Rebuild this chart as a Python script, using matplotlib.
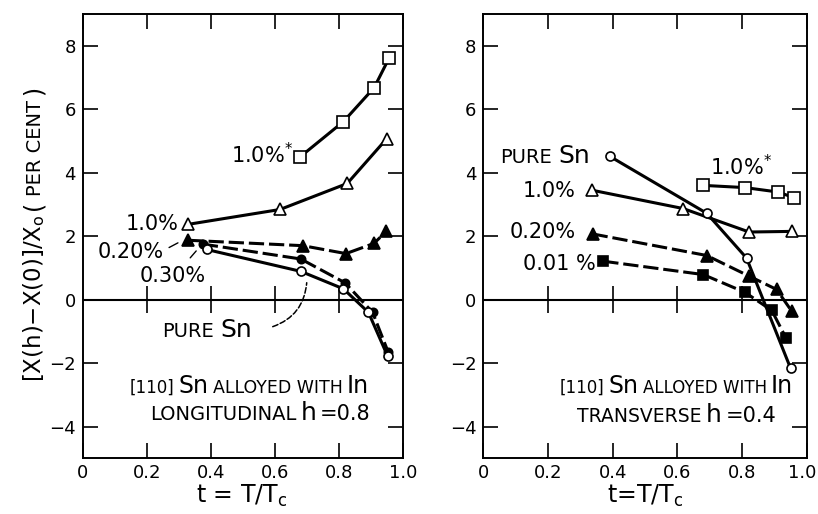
import numpy as np
import matplotlib
matplotlib.use("Agg")
import matplotlib.pyplot as plt
from matplotlib.transforms import ScaledTranslation

plt.rcParams['font.family'] = ['DejaVu Sans']
plt.rcParams['mathtext.fontset'] = 'dejavusans'

W, H = 818, 514

# ---- data: t = T/Tc, [X(h)-X(0)]/X0 in per cent ----
# left panel: longitudinal, h = 0.8
L_star_t = [0.679, 0.814, 0.910, 0.956]
L_star_v = [4.50, 5.61, 6.68, 7.60]
L_10_t = [0.328, 0.616, 0.826, 0.949]
L_10_v = [2.37, 2.84, 3.66, 5.07]
L_020_t = [0.330, 0.687, 0.822, 0.909, 0.948]
L_020_v = [1.87, 1.70, 1.45, 1.77, 2.15]
L_030_t = [0.375, 0.681, 0.819, 0.905, 0.954]
L_030_v = [1.75, 1.28, 0.53, -0.40, -1.66]
L_pure_t = [0.387, 0.681, 0.814, 0.892, 0.952]
L_pure_v = [1.58, 0.89, 0.34, -0.40, -1.78]

# right panel: transverse, h = 0.4
R_pure_t = [0.392, 0.691, 0.814, 0.950]
R_pure_v = [4.51, 2.72, 1.31, -2.16]
R_star_t = [0.680, 0.809, 0.912, 0.961]
R_star_v = [3.60, 3.53, 3.39, 3.21]
R_10_t = [0.335, 0.618, 0.822, 0.954]
R_10_v = [3.45, 2.87, 2.13, 2.15]
R_020_t = [0.338, 0.691, 0.822, 0.907, 0.954]
R_020_v = [2.07, 1.39, 0.74, 0.32, -0.37]
R_001_t = [0.371, 0.680, 0.809, 0.892, 0.936]
R_001_v = [1.21, 0.79, 0.23, -0.34, -1.21]

xticks = [0, 0.2, 0.4, 0.6, 0.8, 1.0]
xticklabels = ['0', '0.2', '0.4', '0.6', '0.8', '1.0']
yticks = [-4, -2, 0, 2, 4, 6, 8]
yticklabels = ['\u22124', '\u22122', '0', '2', '4', '6', '8']

fig = plt.figure(figsize=(W / 100, H / 100), dpi=100)
axL = fig.add_axes([82.7 / W, 1 - 458.3 / H, (403 - 82.7) / W, (458.3 - 14) / H])
axR = fig.add_axes([483.3 / W, 1 - 458.3 / H, (806.7 - 483.3) / W, (458.3 - 14) / H])


def style_axes(ax):
    ax.set_xlim(0, 1.0)
    ax.set_ylim(-5, 9)
    ax.set_xticks(xticks)
    ax.set_xticklabels(xticklabels)
    ax.set_yticks(yticks)
    ax.set_yticklabels(yticklabels)
    ax.tick_params(axis='both', direction='in', length=11, width=1.2,
                   top=True, right=True, labelsize=13, pad=5)
    ax.tick_params(axis='x', pad=4)
    for s in ax.spines.values():
        s.set_linewidth(1.4)
    ax.axhline(0, color='black', lw=1.5, zorder=1)
    ax.vlines(xticks[1:-1], -0.42, 0.42, color='black', lw=1.2, zorder=1)


style_axes(axL)
style_axes(axR)

# keep the last tick label of the right panel inside the picture
last = axR.get_xticklabels()[-1]
last.set_transform(last.get_transform() + ScaledTranslation(-5 / 100, 0, fig.dpi_scale_trans))

dash = (5, 1.6)


def series(ax, t, v, marker, face, ls='-', ms=8):
    line, = ax.plot(t, v, color='black', lw=2.2, marker=marker, ms=ms,
                    mfc=face, mec='black', mew=1.2, zorder=3)
    if ls == '--':
        line.set_dashes(dash)


series(axL, L_star_t, L_star_v, 's', 'white')
series(axL, L_10_t, L_10_v, '^', 'white', ms=9)
series(axL, L_020_t, L_020_v, '^', 'black', ls='--', ms=9)
series(axL, L_030_t, L_030_v, 'o', 'black', ls='--', ms=6)
series(axL, L_pure_t, L_pure_v, 'o', 'white', ms=6.5)

series(axR, R_star_t, R_star_v, 's', 'white')
series(axR, R_10_t, R_10_v, '^', 'white', ms=9)
series(axR, R_020_t, R_020_v, '^', 'black', ls='--', ms=9)
series(axR, R_001_t, R_001_v, 's', 'black', ls='--', ms=7.5)
series(axR, R_pure_t, R_pure_v, 'o', 'white', ms=6.5)

renderer = fig.canvas.get_renderer()


def rich(x_px, y_px, pieces, gap=3, rotation=0):
    """pieces of (string, size) laid out one after the other from (x_px, y_px) baseline"""
    pos = x_px if rotation == 0 else y_px
    for s, size in pieces:
        if rotation == 0:
            t = fig.text(pos / W, 1 - y_px / H, s, fontsize=size, ha='left', va='baseline')
            pos += t.get_window_extent(renderer).width + gap
        else:
            t = fig.text(x_px / W, 1 - pos / H, s, fontsize=size, ha='left', va='baseline',
                         rotation=90, rotation_mode='anchor')
            pos -= t.get_window_extent(renderer).height + gap


# left panel labels
rich(231, 163, [('1.0%$^{*}$', 15)])
rich(126, 230, [('1.0%', 15)])
rich(98, 258, [('0.20%', 15)])
rich(140, 282, [('0.30%', 15)])
rich(162, 337, [('PURE', 14), ('Sn', 18)], gap=7)
rich(130, 393, [('[110]', 12), ('Sn', 17), ('ALLOYED WITH', 12.5), ('In', 17)], gap=4)
rich(150, 420, [('LONGITUDINAL', 14), ('h', 18), ('=0.8', 15)], gap=4)

axL.annotate('', xy=(0.305, 1.83), xytext=(0.262, 1.6),
             arrowprops=dict(arrowstyle='-', lw=1, color='black'))
axL.annotate('', xy=(0.36, 1.6), xytext=(0.33, 1.25),
             arrowprops=dict(arrowstyle='-', lw=1, color='black'))
axL.annotate('', xy=(0.70, 0.62), xytext=(0.585, -0.88),
             arrowprops=dict(arrowstyle='-', lw=1.1, ls='--', color='black',
                             connectionstyle='arc3,rad=0.35'))

# right panel labels
rich(500, 163, [('PURE', 14), ('Sn', 18)], gap=7)
rich(710, 175, [('1.0%$^{*}$', 15)])
rich(523, 197, [('1.0%', 15)])
rich(510, 238, [('0.20%', 15)])
rich(523, 270, [('0.01 %', 15)])
rich(560, 393, [('[110]', 12), ('Sn', 17), ('ALLOYED WITH', 12), ('In', 17)], gap=4)
rich(577, 422, [('TRANSVERSE', 13.5), ('h', 18), ('=0.4', 15)], gap=4)

# axis titles
fig.text(242 / W, 1 - 503 / H, 't = T/T$_{\\mathsf{c}}$', fontsize=17, ha='center', va='baseline')
fig.text(645 / W, 1 - 503 / H, 't=T/T$_{\\mathsf{c}}$', fontsize=17, ha='center', va='baseline')
rich(41, 382, [('[X(h)\u2212X(0)]/X$_{\\mathsf{o}}$', 16.5), ('(', 17), ('PER CENT', 14), (')', 17)],
     gap=5, rotation=90)

fig.savefig('out.png', dpi=100)
